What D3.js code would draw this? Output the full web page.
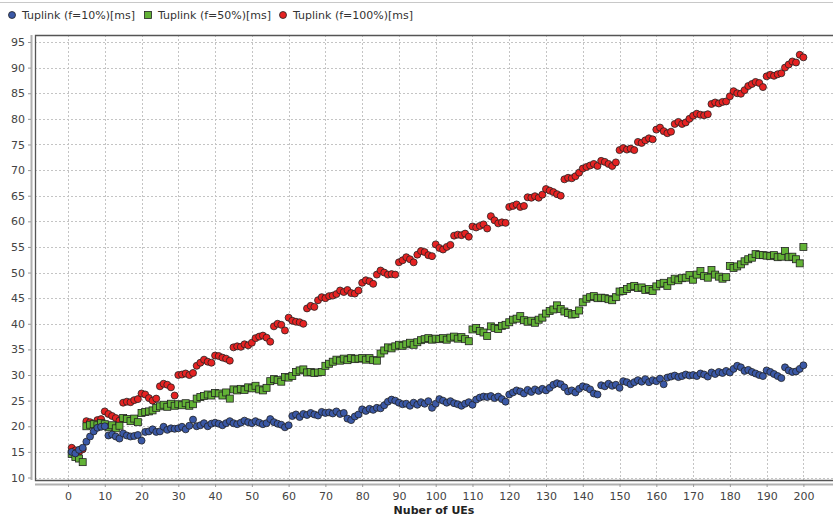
<!DOCTYPE html>
<html><head><meta charset="utf-8">
<script src="https://cdn.jsdelivr.net/npm/d3@7"></script>
<style>body{margin:0;background:#fff}svg{display:block}text{font-family:"DejaVu Sans",sans-serif}</style>
</head><body><div id="chart"></div>
<script>
const seriesNames = ["Tuplink (f=10%)[ms]", "Tuplink (f=50%)[ms]", "Tuplink (f=100%)[ms]"];
const xTicks = [0,10,20,30,40,50,60,70,80,90,100,110,120,130,140,150,160,170,180,190,200];
const yTicks = [10,15,20,25,30,35,40,45,50,55,60,65,70,75,80,85,90,95];
const xLabel = "Nuber of UEs";

const blue = [
15.0,14.7,15.4,15.8,17.0,18.0,19.0,19.7,19.9,20.0,
18.2,18.4,18.0,17.6,18.6,18.2,18.0,18.1,18.3,17.2,
18.9,19.0,19.4,18.9,19.0,19.9,19.3,19.6,19.5,19.6,
19.9,19.4,20.1,21.3,20.0,20.2,20.6,20.0,20.5,20.7,
20.5,20.2,20.6,21.0,20.6,20.4,20.7,21.1,20.8,20.6,
21.0,20.7,20.4,20.6,21.4,20.8,20.5,20.3,19.8,20.2,
22.0,22.3,21.8,22.4,22.2,22.6,22.3,22.1,22.8,22.6,
22.7,22.5,22.9,22.4,22.6,21.5,21.2,21.9,22.3,23.3,
23.0,23.4,23.2,23.6,23.5,24.1,24.8,25.2,25.0,24.6,
24.3,24.4,24.0,24.6,24.2,24.7,24.4,24.9,23.6,24.4,
25.3,25.0,24.6,24.9,24.5,24.3,24.0,24.4,24.7,24.2,
25.2,25.6,25.8,25.7,25.9,25.5,25.8,25.3,24.8,26.2,
26.6,27.0,26.8,26.4,27.1,26.7,27.2,26.9,27.3,27.0,
27.5,28.1,28.4,28.2,27.6,26.8,27.0,26.6,27.3,27.8,
27.6,27.2,26.4,26.2,28.0,27.8,28.3,27.9,28.1,27.5,
28.8,28.6,28.2,28.6,29.0,28.7,29.2,28.6,29.0,28.8,
29.3,28.2,29.5,29.7,29.9,29.6,29.8,30.1,29.9,30.0,
29.8,30.3,30.1,29.7,30.5,30.2,30.6,30.4,30.8,30.5,
31.2,31.8,31.5,30.8,31.0,30.6,30.3,30.0,29.8,30.9,
30.6,30.2,29.8,29.4,31.5,30.9,30.6,30.7,31.2,31.9];

const green = [
14.6,14.0,13.7,13.0,20.0,20.3,20.4,20.2,20.6,20.4,
19.8,20.2,19.6,20.1,21.6,21.4,21.0,21.5,20.8,22.6,
22.8,22.9,23.1,23.6,23.9,24.2,23.8,24.4,24.0,24.3,
24.1,24.5,24.0,24.3,25.4,25.7,25.9,26.2,26.0,26.5,
26.4,26.0,26.6,25.4,27.2,27.0,27.3,27.1,27.6,27.4,
27.9,27.2,27.0,27.5,28.8,29.2,29.0,28.7,29.6,29.5,
29.8,30.6,30.9,31.1,30.5,30.6,30.4,30.5,30.6,31.8,
32.2,32.6,33.0,32.8,33.2,32.9,33.3,33.1,33.2,33.3,
33.0,33.3,32.9,32.8,34.2,34.8,35.4,35.2,35.6,35.9,
35.7,36.0,36.3,35.9,36.4,36.8,37.0,37.2,36.9,37.1,
37.0,37.2,36.9,37.3,37.5,37.1,37.4,37.0,36.6,38.9,
39.2,38.6,38.3,37.6,39.5,39.2,39.0,39.6,39.8,40.3,
40.8,41.0,41.5,40.7,40.4,40.6,40.2,40.8,41.2,42.0,
42.5,42.8,43.6,42.9,42.4,42.1,41.8,41.9,42.6,44.2,
44.9,45.2,45.4,45.0,45.1,45.0,44.8,44.6,45.2,46.3,
46.4,46.8,47.2,47.4,47.0,47.1,46.6,46.8,46.4,47.3,
47.8,48.0,47.4,48.3,48.8,48.5,48.9,49.0,49.5,48.6,
49.6,50.3,49.3,49.0,50.5,49.6,49.2,48.8,49.1,51.3,
50.9,51.2,51.6,52.2,52.6,52.9,53.6,53.4,53.4,53.3,
53.2,53.4,53.0,53.1,54.2,53.0,53.1,52.6,51.8,55.0];

const red = [
15.8,15.3,15.0,15.5,21.0,20.8,20.5,21.2,21.4,22.9,
22.4,22.0,21.6,21.1,24.6,24.8,24.7,25.1,25.3,26.4,
26.2,25.5,25.0,25.4,27.8,28.3,28.1,27.6,26.0,30.0,
30.1,30.3,30.0,30.4,31.8,32.4,33.0,32.6,32.4,33.8,
33.7,33.4,33.2,32.8,35.4,35.6,35.5,36.0,35.8,36.3,
37.2,37.5,37.7,37.3,36.5,39.5,40.0,39.8,38.7,41.2,
40.6,40.4,40.3,40.0,43.0,43.5,43.3,44.6,45.2,45.0,
45.4,45.5,45.8,46.5,46.2,46.6,46.0,45.9,46.5,48.0,
48.5,48.3,47.8,49.6,50.4,50.0,49.6,49.7,49.6,52.0,
52.4,53.0,52.6,52.0,53.5,54.2,54.0,53.4,53.2,55.5,
54.8,54.5,55.0,55.4,57.2,57.4,57.3,57.6,57.0,59.0,
58.8,59.1,59.4,58.6,61.0,60.2,59.6,59.8,59.7,62.8,
63.0,63.3,62.8,63.0,64.7,64.6,64.9,64.6,65.2,66.3,
66.0,65.7,65.3,65.0,68.2,68.5,68.4,68.8,69.5,70.3,
70.6,70.9,71.2,70.8,71.8,71.6,71.2,70.8,71.5,73.9,
74.3,74.0,74.2,73.9,75.5,75.3,75.8,76.2,76.0,77.9,
78.3,77.6,77.2,77.5,79.0,79.4,79.0,79.3,80.0,80.6,
81.0,80.8,80.7,80.9,82.9,83.2,83.0,83.3,83.4,84.4,
85.4,85.0,84.9,85.6,86.4,86.8,87.2,87.0,86.2,88.3,
88.6,88.4,88.7,88.9,90.0,90.6,91.2,91.0,92.5,92.0];

const colors = ["#3a58a6", "#62b236", "#e62222"];
const shapes = ["circle", "square", "circle"];
const allSeries = [blue, green, red];

const W = 833, H = 518;
const plot = {left: 35, top: 35, right: 833, bottom: 480};
const x = d3.scaleLinear().domain([0, 200]).range([68, 803.4]);
const y = d3.scaleLinear().domain([10, 95]).range([477.5, 42]);

const svg = d3.select("#chart").append("svg").attr("width", W).attr("height", H);

// top separator line
svg.append("line").attr("x1", 0).attr("x2", W).attr("y1", 2.5).attr("y2", 2.5)
  .attr("stroke", "#c8c8c8").attr("stroke-width", 1);

// legend
const leg = svg.append("g");
const legX = [12, 148, 283];
seriesNames.forEach((n, i) => {
  const cx = legX[i], cy = 15;
  if (shapes[i] === "circle") {
    leg.append("circle").attr("cx", cx).attr("cy", cy).attr("r", 3.5)
      .attr("fill", colors[i]).attr("stroke", "#222").attr("stroke-width", 0.8);
  } else {
    leg.append("rect").attr("x", cx - 3.5).attr("y", cy - 3.5).attr("width", 7).attr("height", 7)
      .attr("fill", colors[i]).attr("stroke", "#222").attr("stroke-width", 0.8);
  }
  leg.append("text").attr("x", cx + 10).attr("y", cy + 4).attr("font-size", 11)
    .attr("fill", "#333").text(n);
});

// clip
svg.append("clipPath").attr("id", "clip").append("rect")
  .attr("x", plot.left).attr("y", plot.top).attr("width", plot.right - plot.left).attr("height", plot.bottom - plot.top);

// grid
const grid = svg.append("g").attr("stroke", "#c4c4c4").attr("stroke-width", 1).attr("stroke-dasharray", "2,2");
xTicks.forEach(t => grid.append("line").attr("x1", Math.round(x(t)) + 0.5).attr("x2", Math.round(x(t)) + 0.5)
  .attr("y1", plot.top).attr("y2", plot.bottom));
yTicks.forEach(t => grid.append("line").attr("y1", Math.round(y(t)) + 0.5).attr("y2", Math.round(y(t)) + 0.5)
  .attr("x1", plot.left).attr("x2", plot.right));

// plot border
svg.append("path").attr("d", `M${plot.right},${plot.top + 0.5}H${plot.left + 0.5}V${plot.bottom + 0.5}H${plot.right}`)
  .attr("fill", "none").attr("stroke", "#555").attr("stroke-width", 1.3);

// axes
const xAxis = svg.append("g").attr("transform", `translate(0,${plot.bottom + 4})`)
  .call(d3.axisBottom(x).tickValues(xTicks).tickSize(3).tickPadding(5));
xAxis.select(".domain").attr("d", `M${plot.left},0.5H${plot.right}`).attr("stroke", "#b0b0b0").attr("stroke-width", 2);
xAxis.selectAll(".tick line").attr("stroke", "#999");
xAxis.selectAll(".tick text").attr("font-size", 11).attr("fill", "#444").attr("font-family", "DejaVu Sans");

const yAxis = svg.append("g").attr("transform", `translate(${plot.left - 4},0)`)
  .call(d3.axisLeft(y).tickValues(yTicks).tickSize(3).tickPadding(3));
yAxis.select(".domain").attr("d", `M0.5,${plot.top}V${plot.bottom}`).attr("stroke", "#b0b0b0").attr("stroke-width", 2);
yAxis.selectAll(".tick line").attr("stroke", "#999");
yAxis.selectAll(".tick text").attr("font-size", 11).attr("fill", "#444").attr("font-family", "DejaVu Sans");

svg.append("text").attr("x", (plot.left + plot.right) / 2).attr("y", 514).attr("text-anchor", "middle")
  .attr("font-size", 11).attr("font-weight", "bold").attr("fill", "#222").text(xLabel);

// points: draw in reverse order (series 0 on top)
const pts = svg.append("g").attr("clip-path", "url(#clip)");
[2, 1, 0].forEach(i => {
  const data = allSeries[i].map((v, k) => ({x: k + 1, y: v}));
  const g = pts.append("g");
  if (shapes[i] === "circle") {
    g.selectAll("circle").data(data).join("circle")
      .attr("cx", d => x(d.x)).attr("cy", d => y(d.y)).attr("r", 3.5)
      .attr("fill", colors[i]).attr("stroke", "#222").attr("stroke-width", 0.8);
  } else {
    g.selectAll("rect").data(data).join("rect")
      .attr("x", d => x(d.x) - 3.5).attr("y", d => y(d.y) - 3.5).attr("width", 7).attr("height", 7)
      .attr("fill", colors[i]).attr("stroke", "#222").attr("stroke-width", 0.8);
  }
});
</script></body></html>
